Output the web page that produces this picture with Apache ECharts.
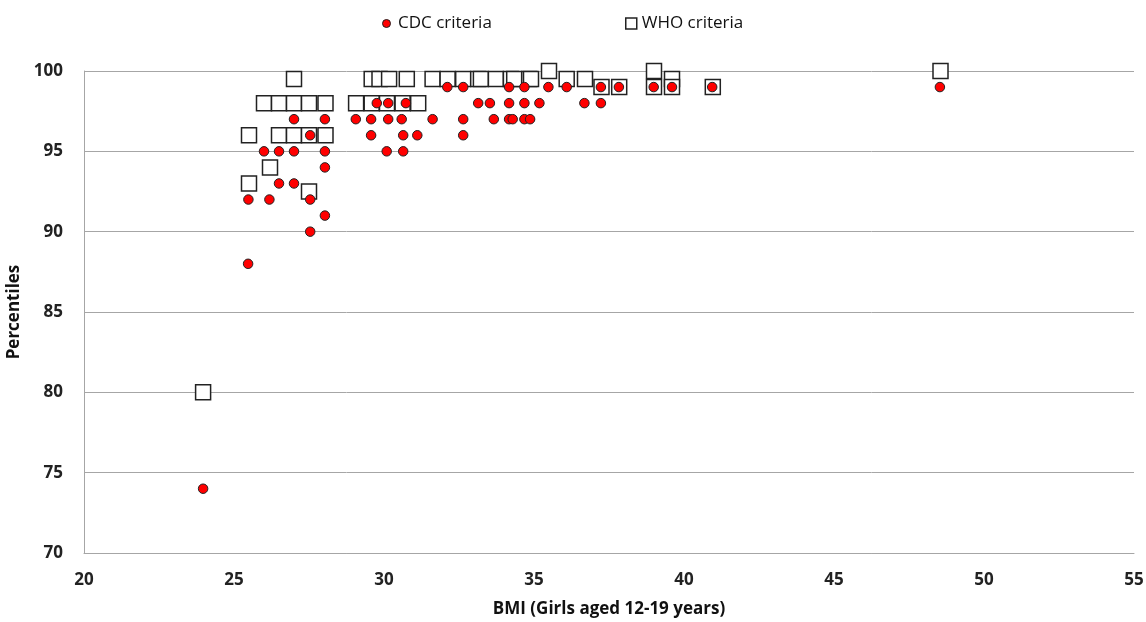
<!DOCTYPE html>
<html>
<head>
<meta charset="utf-8">
<script src="https://cdn.jsdelivr.net/npm/echarts@6/dist/echarts.min.js"></script>
<style>
html,body{margin:0;padding:0;background:#fff;}
#chart{width:1146px;height:622px;}
</style>
</head>
<body>
<div id="chart"></div>
<script>
// BMI values (x) and percentiles (y)
var cdcBMI = [23.97, 25.47, 25.48, 26.18, 27.54, 27.54, 28.03, 26.5, 27.0, 28.03,
  26.0, 26.5, 27.0, 28.03, 27.54, 27.0, 28.03,
  29.06, 29.57, 30.14, 30.59, 31.62, 32.64, 33.66, 34.17, 34.29, 34.68, 34.87,
  29.57, 30.64, 31.11, 32.64, 30.09, 30.64,
  29.76, 30.14, 30.73, 33.14, 33.53, 34.17, 34.68, 35.18, 36.68, 37.23,
  32.11, 32.64, 34.17, 34.68, 35.48, 36.09, 37.23, 37.83, 38.99, 39.6, 40.94, 48.53];
var cdcPct = [74, 88, 92, 92, 92, 90, 91, 93, 93, 94,
  95, 95, 95, 95, 96, 97, 97,
  97, 97, 97, 97, 97, 97, 97, 97, 97, 97, 97,
  96, 96, 96, 96, 95, 95,
  98, 98, 98, 98, 98, 98, 98, 98, 98, 98,
  99, 99, 99, 99, 99, 99, 99, 99, 99, 99, 99, 99];

var whoBMI = [23.97, 25.5, 26.2, 27.5,
  25.5, 26.5, 27.0, 27.5, 28.05,
  26.0, 26.5, 27.0, 27.5, 28.05, 27.0,
  29.07, 29.59, 30.1, 30.62, 31.14,
  29.59, 29.85, 30.17, 30.76, 31.62, 32.12, 32.64, 33.14, 33.23, 33.73, 34.23, 34.34, 34.84, 34.9,
  36.09, 36.7, 39.6,
  37.25, 37.84, 39.0, 39.6, 40.96,
  35.5, 39.0, 48.55];
var whoPct = [80, 93, 94, 92.5,
  96, 96, 96, 96, 96,
  98, 98, 98, 98, 98, 99.5,
  98, 98, 98, 98, 98,
  99.5, 99.5, 99.5, 99.5, 99.5, 99.5, 99.5, 99.5, 99.5, 99.5, 99.5, 99.5, 99.5, 99.5,
  99.5, 99.5, 99.5,
  99, 99, 99, 99, 99,
  100, 100, 100];

var xTicks = {min: 20, max: 55, step: 5};
var yTicks = {min: 70, max: 100, step: 5};

function pairs(xs, ys) { return xs.map(function (x, i) { return [x, ys[i]]; }); }

var FONT = 'Open Sans';
var chart = echarts.init(document.getElementById('chart'), null, {renderer: 'canvas'});
chart.setOption({
  backgroundColor: '#fff',
  animation: false,
  textStyle: {fontFamily: FONT},
  legend: [
    {
      top: 10, left: 377, itemWidth: 13, itemHeight: 8,
      textStyle: {fontSize: 17, color: '#111', fontFamily: FONT},
      data: [{name: 'CDC criteria', icon: 'circle', itemStyle: {color: '#ff0000', borderColor: '#222', borderWidth: 1}}]
    },
    {
      top: 10, left: 620, itemWidth: 11, itemHeight: 11,
      textStyle: {fontSize: 17, color: '#111', fontFamily: FONT},
      data: [{name: 'WHO criteria', icon: 'rect', itemStyle: {color: '#fff', borderColor: '#222', borderWidth: 1.5}}]
    }
  ],
  grid: {left: 84, right: 12, top: 71, bottom: 69, outerBoundsMode: 'none', containLabel: false},
  xAxis: {
    type: 'value', min: xTicks.min, max: xTicks.max, interval: xTicks.step,
    name: 'BMI (Girls aged 12-19 years)', nameLocation: 'middle', nameGap: 48,
    nameTextStyle: {fontSize: 17, fontWeight: 'bold', color: '#111', fontFamily: FONT},
    axisLine: {show: true, lineStyle: {color: '#a6a6a6', width: 1}},
    axisTick: {show: false},
    axisLabel: {fontSize: 17, fontWeight: 'bold', color: '#222', margin: 19, fontFamily: FONT},
    splitLine: {show: false}
  },
  yAxis: {
    type: 'value', min: yTicks.min, max: yTicks.max, interval: yTicks.step,
    name: 'Percentiles', nameLocation: 'middle', nameGap: 57, nameRotate: 90,
    nameTextStyle: {fontSize: 17, fontWeight: 'bold', color: '#111', fontFamily: FONT},
    axisLine: {show: true, lineStyle: {color: '#a6a6a6', width: 1}},
    axisTick: {show: false},
    axisLabel: {fontSize: 17, fontWeight: 'bold', color: '#222', margin: 21, fontFamily: FONT},
    splitLine: {show: true, lineStyle: {color: '#a6a6a6', width: 1}}
  },
  series: [
    {
      name: 'CDC criteria', type: 'scatter', z: 4,
      symbol: 'circle', symbolSize: 9.5,
      itemStyle: {color: '#ff0000', borderColor: '#222', borderWidth: 1, opacity: 1},
      data: pairs(cdcBMI, cdcPct)
    },
    {
      name: 'WHO criteria', type: 'scatter', z: 3,
      symbol: 'rect', symbolSize: 15,
      itemStyle: {color: '#fff', borderColor: '#222', borderWidth: 1.5, opacity: 1},
      data: pairs(whoBMI, whoPct)
    }
  ]
});
</script>
</body>
</html>
